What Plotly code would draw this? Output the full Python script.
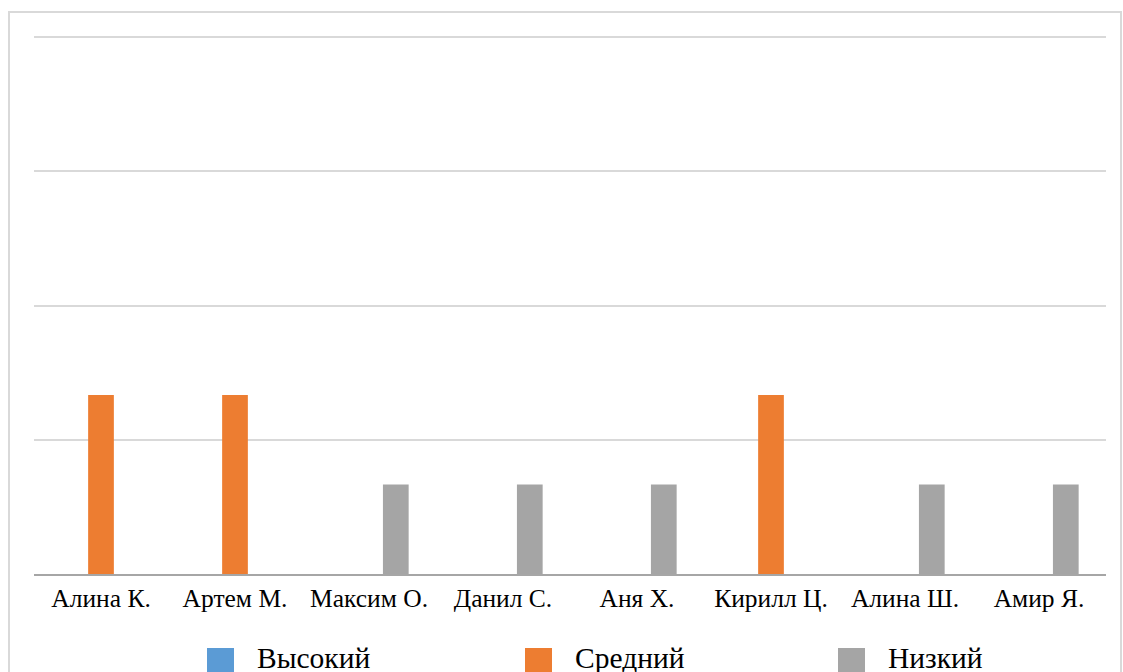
import plotly.graph_objects as go

categories = ["Алина К.", "Артем М.", "Максим О.", "Данил С.", "Аня Х.", "Кирилл Ц.", "Алина Ш.", "Амир Я."]
series_names = ["Высокий", "Средний", "Низкий"]
high = [0, 0, 0, 0, 0, 0, 0, 0]
mid = [2, 2, 0, 0, 0, 2, 0, 0]
low = [0, 0, 1, 1, 1, 0, 1, 1]
colors = ["#5b9bd5", "#ed7d31", "#a5a5a5"]

W, H = 1123, 672
L, R, T, B = 34, 1106, 36, 574

def px_x(px):
    return (px - L) / (R - L)

def px_y(py):
    return (B - py) / (B - T)

fig = go.Figure()
for name, vals, c in zip(series_names, [high, mid, low], colors):
    fig.add_trace(go.Bar(x=categories, y=vals, name=name, marker_color=c, marker_line_width=0))

font_family = "Liberation Serif, Times New Roman, serif"

fig.update_layout(
    width=W, height=H,
    margin=dict(l=L, r=W - R, t=T, b=H - B),
    paper_bgcolor="white", plot_bgcolor="white",
    barmode="group", bargap=0.40, bargroupgap=0.04,
    showlegend=False,
    font=dict(family=font_family, color="#000000"),
)
fig.update_yaxes(range=[0, 6.012], tickvals=[1.5, 3, 4.5, 6], showticklabels=False, showgrid=True,
                 gridcolor="#d9d9d9", gridwidth=2, zeroline=False)
fig.update_xaxes(showline=True, linecolor="#a6a6a6", linewidth=2, ticks="",
                 tickfont=dict(size=25.5, family=font_family, color="#000000"))

# chart border
fig.add_shape(type="rect", xref="paper", yref="paper",
              x0=px_x(9), x1=px_x(1121), y0=px_y(720), y1=px_y(12),
              line=dict(color="#d9d9d9", width=2), fillcolor="rgba(0,0,0,0)", layer="below")

# legend
leg_sq_x = [207, 525, 838]
for name, c, sx in zip(series_names, colors, leg_sq_x):
    fig.add_shape(type="rect", xref="paper", yref="paper",
                  x0=px_x(sx), x1=px_x(sx + 27), y0=px_y(676), y1=px_y(648),
                  line=dict(width=0), fillcolor=c)
    fig.add_annotation(xref="paper", yref="paper", x=px_x(sx + 48), y=px_y(658),
                       text=name, showarrow=False, xanchor="left", yanchor="middle",
                       font=dict(size=29.5, family=font_family, color="#000000"))

fig.write_html("out.html")
